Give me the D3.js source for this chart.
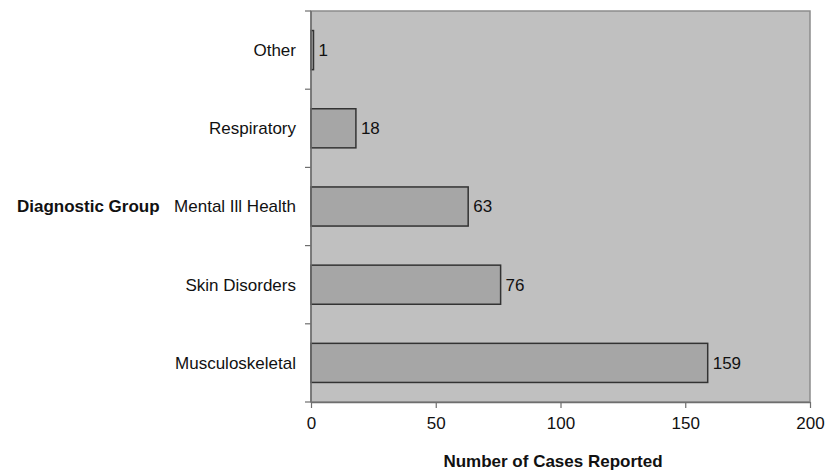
<!DOCTYPE html>
<html>
<head>
<meta charset="utf-8">
<script src="https://cdn.jsdelivr.net/npm/d3@7"></script>
<style>
  html, body { margin: 0; padding: 0; background: #ffffff; }
  svg { display: block; }
  text { font-family: "Liberation Sans", Arial, sans-serif; fill: #111; }
</style>
</head>
<body>
<svg id="chart" width="828" height="473"></svg>
<script>
// Diagnostic groups, listed from top to bottom
const categories = ["Other", "Respiratory", "Mental Ill Health", "Skin Disorders", "Musculoskeletal"];
const cases = [1, 18, 63, 76, 159];
const xTicks = [0, 50, 100, 150, 200];

const svg = d3.select("#chart");
const margin = { top: 11, right: 18, bottom: 71, left: 311 };
const width = 828 - margin.left - margin.right;
const height = 473 - margin.top - margin.bottom;

const x = d3.scaleLinear().domain([0, 200]).range([0, width]);
const y = d3.scaleBand().domain(categories).range([0, height]).paddingInner(0.5).paddingOuter(0.25);

const g = svg.append("g").attr("transform", `translate(${margin.left},${margin.top})`);

// plot area
g.append("rect")
  .attr("x", 0).attr("y", 0)
  .attr("width", width).attr("height", height)
  .attr("fill", "#c0c0c0")
  .attr("stroke", "#8c8c8c")
  .attr("stroke-width", 1.5);

const rows = categories.map((c, i) => ({ c, v: cases[i] }));

// bars
g.selectAll("rect.bar")
  .data(rows)
  .join("rect")
  .attr("class", "bar")
  .attr("x", x(0))
  .attr("y", d => y(d.c))
  .attr("width", d => x(d.v) - x(0))
  .attr("height", y.bandwidth())
  .attr("fill", "#a6a6a6")
  .attr("stroke", "#333")
  .attr("stroke-width", 1.5);

// value labels
g.selectAll("text.value")
  .data(rows)
  .join("text")
  .attr("class", "value")
  .attr("x", d => x(d.v) + 5)
  .attr("y", d => y(d.c) + y.bandwidth() / 2)
  .attr("dy", "0.35em")
  .style("font-size", "17px")
  .text(d => d.v);

// x axis
const xAxis = g.append("g")
  .attr("transform", `translate(0,${height})`)
  .call(d3.axisBottom(x).tickValues(xTicks).tickSize(6).tickPadding(9).tickSizeOuter(0));
xAxis.select(".domain").attr("stroke", "#6e6e6e").attr("stroke-width", 1.5);
xAxis.selectAll(".tick line").attr("stroke", "#6e6e6e").attr("stroke-width", 1.2);
xAxis.selectAll(".tick text")
  .style("font-size", "17px")
  .style("font-family", "'Liberation Sans', Arial, sans-serif")
  .attr("fill", "#111");

// y axis: ticks at band boundaries
const boundaries = d3.range(categories.length + 1).map(i => i * height / categories.length);
g.append("line")
  .attr("x1", 0).attr("x2", 0).attr("y1", 0).attr("y2", height)
  .attr("stroke", "#6e6e6e").attr("stroke-width", 1.5);
g.selectAll("line.ytick")
  .data(boundaries)
  .join("line")
  .attr("class", "ytick")
  .attr("x1", -6).attr("x2", 0)
  .attr("y1", d => d).attr("y2", d => d)
  .attr("stroke", "#6e6e6e").attr("stroke-width", 1.2);

// category labels
g.selectAll("text.cat")
  .data(categories)
  .join("text")
  .attr("class", "cat")
  .attr("x", -15)
  .attr("y", d => y(d) + y.bandwidth() / 2)
  .attr("dy", "0.35em")
  .attr("text-anchor", "end")
  .style("font-size", "17px")
  .text(d => d);

// axis titles
svg.append("text")
  .attr("x", 17)
  .attr("y", margin.top + y("Mental Ill Health") + y.bandwidth() / 2)
  .attr("dy", "0.35em")
  .style("font-size", "17px")
  .style("font-weight", "bold")
  .text("Diagnostic Group");

svg.append("text")
  .attr("x", 553)
  .attr("y", 467)
  .attr("text-anchor", "middle")
  .style("font-size", "17px")
  .style("font-weight", "bold")
  .text("Number of Cases Reported");
</script>
</body>
</html>
